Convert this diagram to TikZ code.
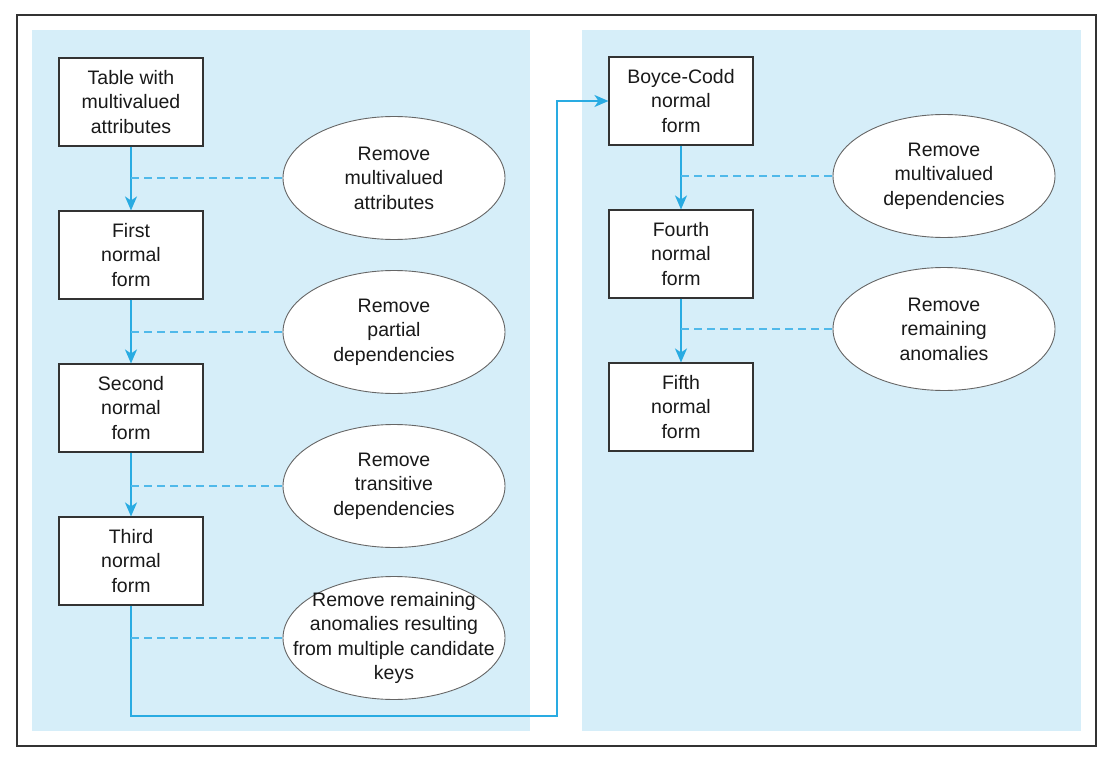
\documentclass[tikz,border=0pt]{standalone}
\usepackage{fontspec}
\setmainfont{Liberation Sans}
\usepackage{tikz}
\usetikzlibrary{shapes.geometric}
\usetikzlibrary{arrows.meta}
\definecolor{panelblue}{RGB}{214,238,249}
\definecolor{flowblue}{RGB}{41,171,226}
\definecolor{dashblue}{RGB}{80,185,234}
\def\thickness{1.4pt}
\def\labelfont{\fontsize{19.5}{24.5}\selectfont}
\tikzstyle{nf}=[rectangle, draw=black!80, fill=white, line width=1.1pt, minimum width=144pt, minimum height=88pt, align=center, text=black!90, font=\labelfont]
\tikzstyle{rm}=[ellipse, draw=black!60, fill=white, line width=0.9pt, minimum width=222pt, minimum height=123pt, inner xsep=-25pt, inner ysep=-8pt, align=center, text=black!90, font=\labelfont]
\tikzstyle{flow}=[draw=flowblue, line width=\thickness, -{Stealth[length=14pt,width=12pt,inset=4pt]}]
\tikzstyle{link}=[draw=dashblue, line width=1.4pt, dash pattern=on 8pt off 5pt]
\tikzstyle{panel}=[fill=panelblue]

\begin{document}
\begin{tikzpicture}[x=1pt, y=-1pt]
\useasboundingbox (0,0) rectangle (1112,760);
\draw [line width=2.4pt, black!80] (17,15) rectangle (1096,746);
\fill [panel] (32,30) rectangle (530,731);
\fill [panel] (582,30) rectangle (1081,731);
\node [nf] (tab) at (131,102) {Table with\\multivalued\\attributes};
\node [nf] (first) at (131,255) {First\\normal\\form};
\node [nf] (second) at (131,408) {Second\\normal\\form};
\node [nf] (third) at (131,561) {Third\\normal\\form};
\node [nf] (bcnf) at (681,101) {Boyce-Codd\\normal\\form};
\node [nf] (fourth) at (681,254) {Fourth\\normal\\form};
\node [nf] (fifth) at (681,407) {Fifth\\normal\\form};
\node [rm] (rmmv) at (394,178) {Remove\\multivalued\\attributes};
\node [rm] (rmpd) at (394,332) {Remove\\partial\\dependencies};
\node [rm] (rmtd) at (394,486) {Remove\\transitive\\dependencies};
\node [rm] (rmck) at (394,638) {Remove remaining\\anomalies resulting\\from multiple candidate\\keys};
\node [rm] (rmmd) at (944,176) {Remove\\multivalued\\dependencies};
\node [rm] (rmra) at (944,329) {Remove\\remaining\\anomalies};
\coordinate (turn) at (557,716);
\draw [flow] (tab) -- (first);
\draw [flow] (first) -- (second);
\draw [flow] (second) -- (third);
\draw [flow] (third.south) |- (turn) |- (bcnf.west);
\draw [flow] (bcnf) -- (fourth);
\draw [flow] (fourth) -- (fifth);
\draw [link] (rmmv.west -| tab.south) -- (rmmv.west);
\draw [link] (rmpd.west -| tab.south) -- (rmpd.west);
\draw [link] (rmtd.west -| tab.south) -- (rmtd.west);
\draw [link] (rmck.west -| tab.south) -- (rmck.west);
\draw [link] (rmmd.west -| bcnf.south) -- (rmmd.west);
\draw [link] (rmra.west -| bcnf.south) -- (rmra.west);
\end{tikzpicture}
\end{document}
